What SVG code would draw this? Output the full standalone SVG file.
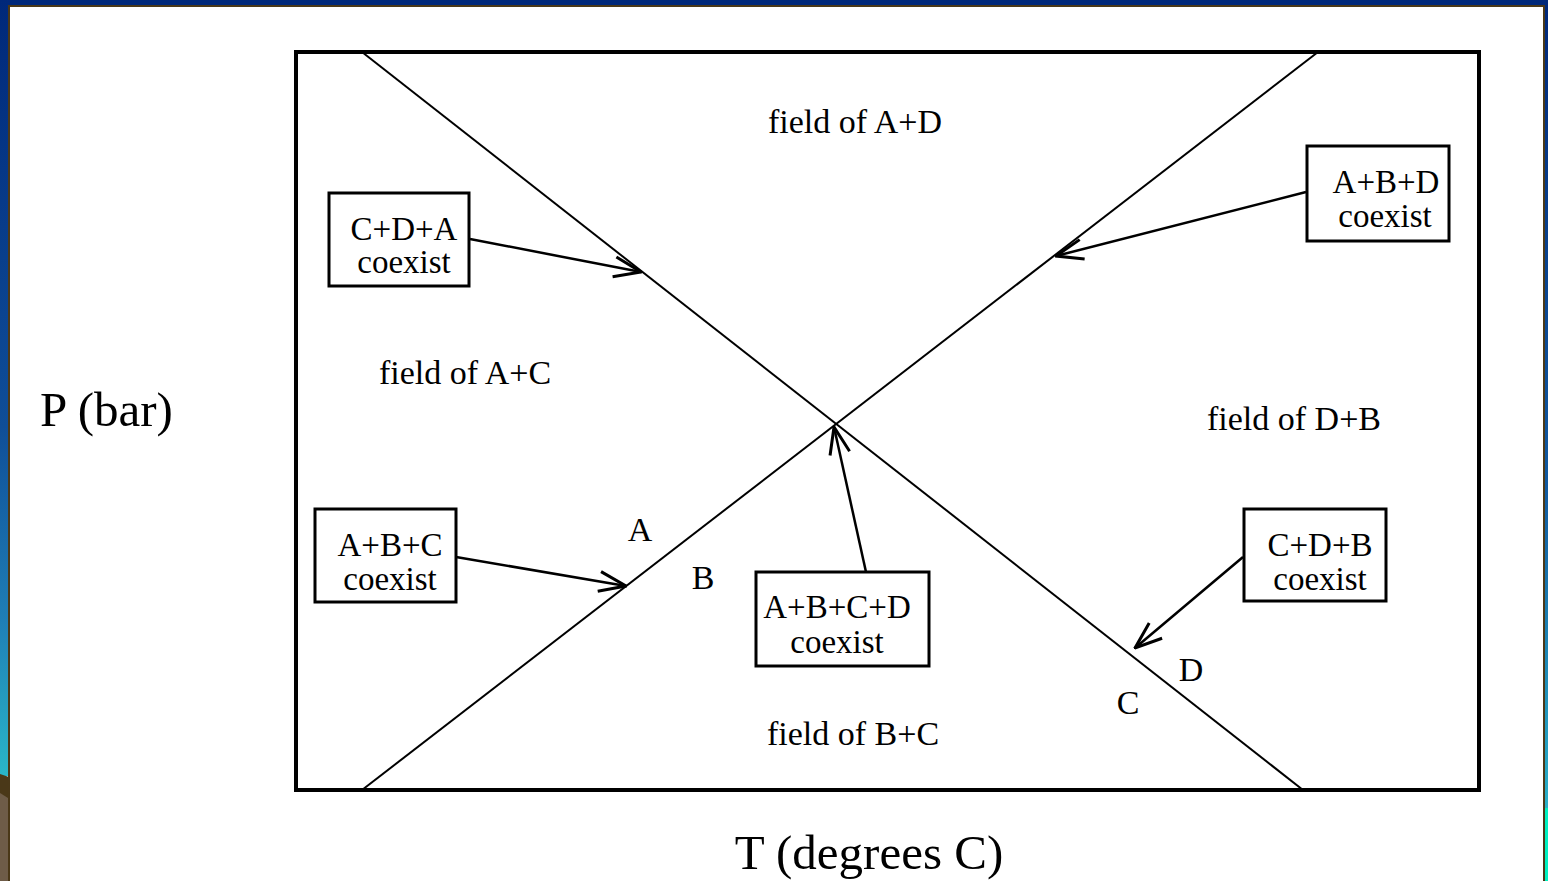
<svg xmlns="http://www.w3.org/2000/svg" width="1548" height="881" viewBox="0 0 1548 881">
<defs>
<linearGradient id="lb" x1="0" y1="0" x2="0" y2="1">
<stop offset="0" stop-color="#00287a"/>
<stop offset="0.55" stop-color="#0f4e98"/>
<stop offset="0.8" stop-color="#1f7fb6"/>
<stop offset="1" stop-color="#2ab6c8"/>
</linearGradient>
<linearGradient id="rb" x1="0" y1="0" x2="0" y2="1">
<stop offset="0" stop-color="#00287a"/>
<stop offset="0.6" stop-color="#125aa0"/>
<stop offset="1" stop-color="#2ab0c8"/>
</linearGradient>
<marker id="ah" viewBox="0 0 30 24" refX="29" refY="12" markerWidth="30" markerHeight="24" markerUnits="userSpaceOnUse" orient="auto">
<path d="M2,2 L29,12 L2,22" fill="none" stroke="#000" stroke-width="3"/>
</marker>
<style>
text{font-family:"Liberation Serif","Times New Roman",serif;fill:#000}
.t{font-size:34px;text-anchor:middle}
.b{font-size:33px;text-anchor:middle}
.ax{font-size:49px}
.box{fill:#fff;stroke:#000;stroke-width:3}
.ln{stroke:#000;stroke-width:2;fill:none}
.ar{stroke:#000;stroke-width:2.5;fill:none;marker-end:url(#ah)}
</style>
</defs>
<rect x="0" y="0" width="1548" height="881" fill="#fff"/>
<rect x="0" y="0" width="1548" height="6" fill="#00287a"/>
<rect x="0" y="5" width="1548" height="2" fill="#4a3818"/>
<rect x="0" y="0" width="9" height="776" fill="url(#lb)"/>
<polygon points="0,774 9,777 9,881 0,881" fill="#4a3818"/>
<polygon points="0,793 8,798 8,881 0,881" fill="#6e5c48"/>
<rect x="8" y="5" width="2" height="876" fill="#4a3818"/>
<rect x="1545" y="0" width="3" height="808" fill="url(#rb)"/>
<rect x="1545" y="808" width="3" height="73" fill="#00f0c0"/>
<rect x="1543" y="5" width="2" height="876" fill="#4a3818"/>

<g id="frame">
<rect x="296" y="52" width="1183" height="738" fill="none" stroke="#000" stroke-width="4"/>
</g>
<g id="boundaries">
<line class="ln" x1="362" y1="52" x2="1303" y2="790"/>
<line class="ln" x1="1318" y1="52" x2="362" y2="790"/>
</g>

<g id="labels">
<text class="t" x="855" y="133">field of A+D</text>
<text class="t" x="465" y="384">field of A+C</text>
<text class="t" x="1294" y="430">field of D+B</text>
<text class="t" x="853" y="745">field of B+C</text>
<text class="t" x="640" y="541">A</text>
<text class="t" x="703" y="589">B</text>
<text class="t" x="1128" y="714">C</text>
<text class="t" x="1191" y="681">D</text>
<text class="ax" x="40" y="426">P (bar)</text>
<text class="ax" x="869" y="869" text-anchor="middle">T (degrees C)</text>
</g>

<g id="connectors">
<line class="ar" x1="470" y1="239" x2="641" y2="272"/>
<line class="ar" x1="1306" y1="192" x2="1056" y2="256"/>
<line class="ar" x1="456" y1="557" x2="626" y2="586"/>
<line class="ar" x1="866" y1="572" x2="834" y2="427"/>
<line class="ar" x1="1243" y1="557" x2="1135" y2="648"/>
</g>

<g id="node-CDA">
<rect class="box" x="329" y="193" width="140" height="93"/>
<text class="b" x="404" y="240">C+D+A</text>
<text class="b" x="404" y="273">coexist</text>
</g>
<g id="node-ABD">
<rect class="box" x="1307" y="146" width="142" height="95"/>
<text class="b" x="1386" y="193">A+B+D</text>
<text class="b" x="1385" y="227">coexist</text>
</g>
<g id="node-ABC">
<rect class="box" x="315" y="509" width="141" height="93"/>
<text class="b" x="390" y="556">A+B+C</text>
<text class="b" x="390" y="590">coexist</text>
</g>
<g id="node-CDB">
<rect class="box" x="1244" y="509" width="142" height="92"/>
<text class="b" x="1320" y="556">C+D+B</text>
<text class="b" x="1320" y="590">coexist</text>
</g>
<g id="node-ABCD">
<rect class="box" x="756" y="572" width="173" height="94"/>
<text class="b" x="837" y="618">A+B+C+D</text>
<text class="b" x="837" y="653">coexist</text>
</g>
</svg>
